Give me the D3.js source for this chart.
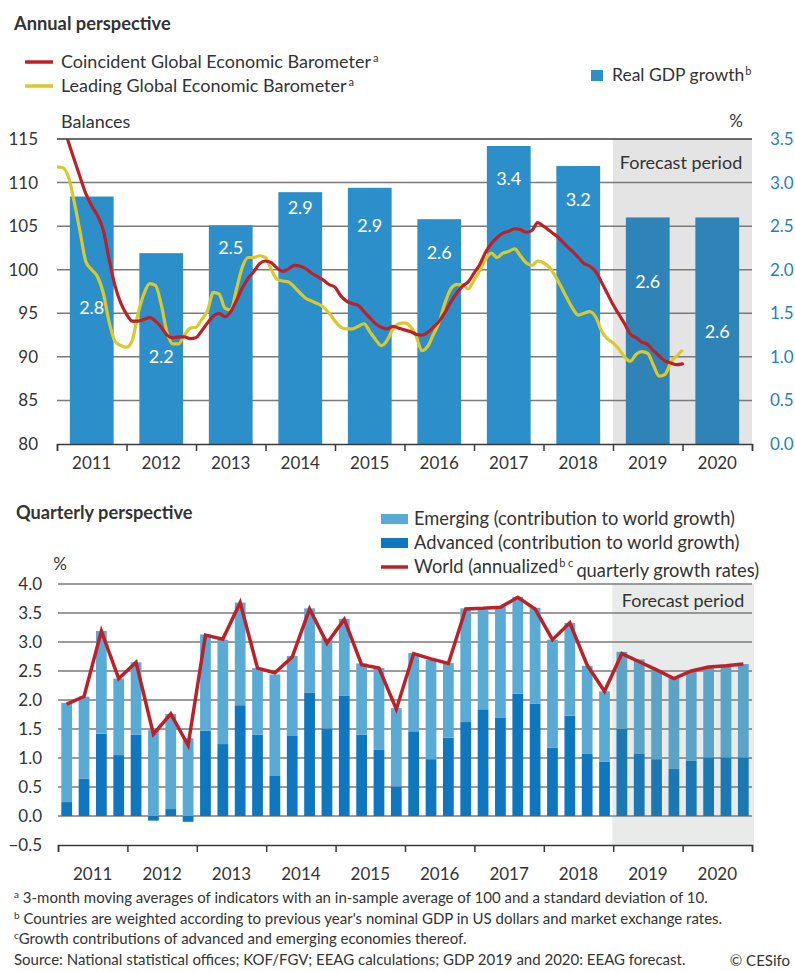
<!DOCTYPE html>
<html>
<head>
<meta charset="utf-8">
<script src="https://cdn.jsdelivr.net/npm/d3@7"></script>
<style>
  body { margin: 0; background: #fff; }
  svg { font-family: Lato, "Noto Sans", sans-serif; }
</style>
</head>
<body>
<svg id="chart" width="795" height="971"></svg>
<script>
// ---- data ----
const years = [2011, 2012, 2013, 2014, 2015, 2016, 2017, 2018, 2019, 2020];
const forecastFrom = 2019;

// real GDP growth, %
const gdpGrowth = [2.84, 2.19, 2.51, 2.89, 2.94, 2.58, 3.42, 3.19, 2.60, 2.60];

// monthly barometers, Jan 2011 .. Jan 2020
const coincident = [
  118.8, 116.9, 114.6, 112.6, 110.6, 108.7, 107.3, 106.2, 104.5, 101.2,
  98.2, 96.2, 94.9, 94.1, 94.1, 94.3, 94.5, 94.1, 93.4, 92.5,
  92.2, 92.3, 92.3, 92.1, 92.2, 93.0, 93.9, 94.7, 95.0, 94.6,
  95.2, 96.5, 97.9, 99.0, 99.8, 100.7, 101.0, 100.8, 100.2, 99.8,
  100.1, 100.5, 100.4, 100.1, 99.6, 99.2, 98.8, 98.3, 98.0, 97.0,
  96.4, 96.1, 95.9, 95.2, 94.5, 93.8, 93.4, 93.2, 93.5, 93.3,
  93.1, 92.9, 92.6, 92.5, 92.8, 93.4, 94.1, 95.1, 96.3, 97.3,
  98.1, 98.6, 99.6, 100.6, 102.0, 103.0, 103.7, 104.2, 104.4, 104.7,
  104.6, 104.3, 104.5, 105.4, 105.0, 104.5, 104.0, 103.4, 102.7, 102.1,
  101.4, 100.7, 100.4, 99.8, 98.6, 97.3, 96.0, 94.9, 93.8, 92.6,
  92.2, 91.7, 91.4, 90.7, 90.1, 89.5, 89.3, 89.1, 89.2
];
const leading = [
  111.8, 111.7, 110.6, 107.7, 104.3, 100.9, 100.0, 99.2, 97.3, 94.0,
  91.8, 91.3, 91.1, 91.9, 95.0, 97.2, 98.4, 98.2, 96.0, 92.8,
  91.5, 91.5, 92.5, 93.3, 93.4, 94.3, 95.3, 97.4, 97.2, 95.6,
  95.4, 97.8, 100.3, 101.4, 101.4, 101.6, 101.4, 100.0, 98.9, 98.7,
  98.6, 98.0, 97.3, 96.7, 96.4, 96.1, 95.7, 95.0, 94.1, 93.4,
  93.2, 93.2, 93.5, 93.8, 92.9, 92.0, 91.3, 91.9, 93.2, 93.8,
  93.9, 93.5, 92.4, 90.7, 91.2, 92.6, 94.0, 96.2, 97.8, 98.3,
  98.3, 97.8, 98.8, 99.9, 101.2, 101.9, 101.4, 101.9, 102.1, 102.4,
  101.6, 100.8, 100.5, 101.0, 100.8, 100.3, 99.3, 98.1, 96.8, 95.6,
  94.8, 95.0, 95.2, 94.6, 93.0, 92.1, 91.6, 90.9, 90.0, 89.5,
  90.3, 90.6, 90.4, 89.0, 87.8, 88.0, 89.4, 90.1, 90.8
];

// quarterly contributions to world growth, 2011Q1 .. 2020Q4
const advanced = [
  0.24, 0.64, 1.42, 1.05, 1.40, -0.08, 0.12, -0.10,
  1.47, 1.24, 1.91, 1.40, 0.69, 1.38, 2.13, 1.51,
  2.07, 1.40, 1.14, 0.51, 1.46, 0.98, 1.35, 1.62,
  1.84, 1.70, 2.11, 1.94, 1.18, 1.73, 1.07, 0.94,
  1.50, 1.07, 0.98, 0.81, 0.95, 1.01, 1.01, 1.01
];
const emerging = [
  1.71, 1.42, 1.77, 1.32, 1.25, 1.48, 1.64, 1.34,
  1.66, 1.80, 1.77, 1.15, 1.75, 1.38, 1.45, 1.55,
  1.33, 1.23, 1.41, 1.35, 1.35, 1.71, 1.29, 1.96,
  1.71, 1.91, 1.67, 1.65, 1.86, 1.60, 1.52, 1.21,
  1.33, 1.63, 1.54, 1.57, 1.55, 1.56, 1.58, 1.61
];
const world = [
  1.93, 2.06, 3.19, 2.37, 2.65, 1.41, 1.76, 1.22,
  3.12, 3.05, 3.68, 2.55, 2.47, 2.74, 3.57, 2.98,
  3.39, 2.61, 2.55, 1.84, 2.80, 2.71, 2.63, 3.57,
  3.58, 3.60, 3.77, 3.57, 3.04, 3.33, 2.60, 2.15,
  2.80, 2.66, 2.52, 2.37, 2.50, 2.57, 2.59, 2.62
];

const leftTicks = [80, 85, 90, 95, 100, 105, 110, 115];
const rightTicks = [0, 0.5, 1, 1.5, 2, 2.5, 3, 3.5];
const bottomTicks = [-0.5, 0, 0.5, 1, 1.5, 2, 2.5, 3, 3.5, 4];

// where the white value labels sit inside the bars (right-axis units)
const labelAt = [1.56, 1.0, 2.25, 2.71, 2.51, 2.20, 3.05, 2.80, 1.86, 1.29];

const footnotes = [
  ['a', ' 3-month moving averages of indicators with an in-sample average of 100 and a standard deviation of 10.'],
  ['b', ' Countries are weighted according to previous year\'s nominal GDP in US dollars and market exchange rates.'],
  ['c', 'Growth contributions of advanced and emerging economies thereof.'],
  ['', 'Source: National statistical offices; KOF/FGV; EEAG calculations; GDP 2019 and 2020: EEAG forecast.']
];

// ---- style ----
const ink = '#333';
const gridColor = '#7a7a7a';
const red = '#bd2128';
const yellow = '#dac92a';
const blue = '#2d8fca';
const blueFc = '#2f83b7';
const axisBlue = '#1f80c3';
const emergingColor = '#5aaad6', emergingFc = '#5ca3c8';
const advancedColor = '#0e77bf', advancedFc = '#1c78b3';

const svg = d3.select('#chart');

function styleAxis(g, size, color) {
  g.attr('font-family', null).attr('font-size', size);
  g.selectAll('text').attr('fill', color);
}

// ---- titles & legends ----
svg.append('text').attr('x', 14).attr('y', 24).attr('dy', '0.35em')
  .attr('font-size', 18.3).attr('font-weight', 'bold').attr('fill', ink)
  .text('Annual perspective');

const legTop = [
  { label: 'Coincident Global Economic Barometer', sup: 'a', color: red, y: 62 },
  { label: 'Leading Global Economic Barometer', sup: 'a', color: yellow, y: 86 }
];
legTop.forEach(d => {
  svg.append('line').attr('x1', 25).attr('x2', 53).attr('y1', d.y).attr('y2', d.y)
    .attr('stroke', d.color).attr('stroke-width', 3.5);
  const t = svg.append('text').attr('x', 61).attr('y', d.y).attr('dy', '0.35em')
    .attr('font-size', 18).attr('fill', ink).text(d.label);
  t.append('tspan').attr('font-size', 11).attr('dx', 2).attr('dy', '-0.55em').text(d.sup);
});
svg.append('rect').attr('x', 591).attr('y', 70).attr('width', 12).attr('height', 11).attr('fill', blue);
const gdpLeg = svg.append('text').attr('x', 612).attr('y', 75).attr('dy', '0.35em')
  .attr('font-size', 17.5).attr('fill', ink).text('Real GDP growth');
gdpLeg.append('tspan').attr('font-size', 11).attr('dx', 1).attr('dy', '-0.55em').text('b');

svg.append('text').attr('x', 61).attr('y', 122).attr('dy', '0.35em')
  .attr('font-size', 18).attr('fill', ink).text('Balances');
svg.append('text').attr('x', 736).attr('y', 121).attr('dy', '0.35em').attr('text-anchor', 'middle')
  .attr('font-size', 17).attr('fill', ink).text('%');

// ---- annual chart ----
const x0 = 57, x1 = 752;
const xTop = d3.scaleLinear().domain([2011, 2021]).range([x0, x1]);
const bandTop = d3.scaleBand().domain(years).range([x0, x1]).paddingInner(0.37).paddingOuter(0.185);
const yLeft = d3.scaleLinear().domain([80, 115]).range([444, 139]);
const yRight = d3.scaleLinear().domain([0, 3.5]).range([444, 139]);

const gTop = svg.append('g');

gTop.append('rect')
  .attr('x', xTop(forecastFrom)).attr('y', yLeft(115))
  .attr('width', xTop(2021) - xTop(forecastFrom)).attr('height', yLeft(80) - yLeft(115))
  .attr('fill', '#e4e4e4');

gTop.append('g').selectAll('line').data(leftTicks.slice(1)).join('line')
  .attr('x1', x0).attr('x2', x1)
  .attr('y1', d => yLeft(d)).attr('y2', d => yLeft(d))
  .attr('stroke', d => d === 115 ? '#3a3a3a' : gridColor).attr('stroke-width', 1.5);

gTop.append('text').attr('x', 681).attr('y', 163).attr('dy', '0.35em').attr('text-anchor', 'middle')
  .attr('font-size', 18).attr('fill', ink).text('Forecast period');

gTop.append('g').selectAll('rect').data(years).join('rect')
  .attr('x', d => bandTop(d)).attr('width', bandTop.bandwidth())
  .attr('y', (d, i) => yRight(gdpGrowth[i]))
  .attr('height', (d, i) => yRight(0) - yRight(gdpGrowth[i]))
  .attr('fill', d => d >= forecastFrom ? blueFc : blue);

gTop.append('g').selectAll('text').data(years).join('text')
  .attr('x', d => bandTop(d) + bandTop.bandwidth() / 2)
  .attr('y', (d, i) => yRight(labelAt[i])).attr('dy', '0.35em')
  .attr('text-anchor', 'middle').attr('font-size', 18).attr('fill', '#fff')
  .text((d, i) => d3.format('.1f')(gdpGrowth[i]));

svg.append('clipPath').attr('id', 'plotClip').append('rect')
  .attr('x', x0).attr('y', yLeft(115)).attr('width', x1 - x0).attr('height', yLeft(80) - yLeft(115));

const monthLine = d3.line()
  .x((d, i) => xTop(2011 + i / 12))
  .y(d => yLeft(d))
  .curve(d3.curveMonotoneX);

gTop.append('path').datum(leading).attr('d', monthLine)
  .attr('fill', 'none').attr('stroke', yellow).attr('stroke-width', 3.2)
  .attr('stroke-linejoin', 'round').attr('clip-path', 'url(#plotClip)');
gTop.append('path').datum(coincident).attr('d', monthLine)
  .attr('fill', 'none').attr('stroke', red).attr('stroke-width', 3.2)
  .attr('stroke-linejoin', 'round').attr('stroke-linecap', 'round').attr('clip-path', 'url(#plotClip)');

// axes
gTop.append('g').attr('transform', `translate(${x0},0)`)
  .call(d3.axisLeft(yLeft).tickValues(leftTicks).tickSize(0).tickPadding(19))
  .call(g => g.select('.domain').remove())
  .call(g => styleAxis(g, 17, ink));

gTop.append('g').attr('transform', `translate(${x1},0)`)
  .call(d3.axisRight(yRight).tickValues(rightTicks).tickSize(0).tickPadding(18).tickFormat(d3.format('.1f')))
  .call(g => g.select('.domain').remove())
  .call(g => styleAxis(g, 17, axisBlue));

gTop.append('g').attr('transform', `translate(0,${yLeft(80)})`)
  .call(d3.axisBottom(xTop).tickValues(d3.range(2011, 2022)).tickSize(7).tickFormat(''))
  .call(g => g.selectAll('path,line').attr('stroke', '#3a3a3a').attr('stroke-width', 1.5));

gTop.append('g').attr('transform', `translate(0,${yLeft(80)})`)
  .call(d3.axisBottom(bandTop).tickSize(0).tickPadding(13))
  .call(g => g.select('.domain').remove())
  .call(g => styleAxis(g, 17, ink));

// ---- quarterly chart ----
svg.append('text').attr('x', 16).attr('y', 513).attr('dy', '0.35em')
  .attr('font-size', 18.2).attr('font-weight', 'bold').attr('fill', ink)
  .text('Quarterly perspective');

const legBot = [
  { label: 'Emerging (contribution to world growth)', color: emergingColor, y: 519, type: 'rect' },
  { label: 'Advanced (contribution to world growth)', color: advancedColor, y: 543, type: 'rect' },
  { label: 'World (annualized', color: red, y: 567, type: 'line' }
];
legBot.forEach(d => {
  if (d.type === 'rect') {
    svg.append('rect').attr('x', 381).attr('y', d.y - 5).attr('width', 27).attr('height', 10).attr('fill', d.color);
  } else {
    svg.append('line').attr('x1', 381).attr('x2', 408).attr('y1', d.y).attr('y2', d.y)
      .attr('stroke', d.color).attr('stroke-width', 3.5);
  }
  const t = svg.append('text').attr('x', 414).attr('y', d.y).attr('dy', '0.35em')
    .attr('font-size', 18.3).attr('fill', ink).text(d.label);
  if (d.type === 'line') {
    t.append('tspan').attr('font-size', 11).attr('dx', 1).attr('dy', '-0.55em').text('b c');
    t.append('tspan').attr('dx', 3).attr('dy', '0.55em').text('quarterly growth rates)');
  }
});

svg.append('text').attr('x', 60).attr('y', 564).attr('dy', '0.35em').attr('text-anchor', 'middle')
  .attr('font-size', 17).attr('fill', ink).text('%');

const quarters = years.flatMap(y => [1, 2, 3, 4].map(q => `${y}Q${q}`));
const b0 = 58, b1 = 752;
const xBot = d3.scaleLinear().domain([2011, 2021]).range([b0, b1]);
const bandBot = d3.scaleBand().domain(quarters).range([b0, b1]).paddingInner(0.38).paddingOuter(0.19);
const bandYears = d3.scaleBand().domain(years).range([b0, b1]);
const yBot = d3.scaleLinear().domain([-0.5, 4]).range([845, 584]);

const gBot = svg.append('g');

gBot.append('rect')
  .attr('x', xBot(forecastFrom) - 1).attr('y', yBot(4))
  .attr('width', xBot(2021) - xBot(forecastFrom) + 3).attr('height', yBot(-0.5) - yBot(4))
  .attr('fill', '#e8ebea');

gBot.append('g').selectAll('line').data(bottomTicks.slice(1)).join('line')
  .attr('x1', b0).attr('x2', b1)
  .attr('y1', d => yBot(d)).attr('y2', d => yBot(d))
  .attr('stroke', gridColor).attr('stroke-width', 1.5);

gBot.append('text').attr('x', 683).attr('y', 601).attr('dy', '0.35em').attr('text-anchor', 'middle')
  .attr('font-size', 18).attr('fill', ink).text('Forecast period');

const rows = quarters.map((q, i) => ({ q, advanced: advanced[i], emerging: emerging[i] }));
const stacked = d3.stack().keys(['advanced', 'emerging']).offset(d3.stackOffsetDiverging)(rows);
const isFc = q => +q.slice(0, 4) >= forecastFrom;
const colorOf = {
  advanced: q => isFc(q) ? advancedFc : advancedColor,
  emerging: q => isFc(q) ? emergingFc : emergingColor
};

gBot.append('g').selectAll('g').data(stacked).join('g')
  .each(function (series) {
    d3.select(this).selectAll('rect').data(series).join('rect')
      .attr('x', d => bandBot(d.data.q)).attr('width', bandBot.bandwidth())
      .attr('y', d => yBot(Math.max(d[0], d[1])))
      .attr('height', d => Math.abs(yBot(d[0]) - yBot(d[1])))
      .attr('fill', d => colorOf[series.key](d.data.q));
  });

const worldLine = d3.line()
  .x((d, i) => bandBot(quarters[i]) + bandBot.bandwidth() / 2)
  .y(d => yBot(d));
gBot.append('path').datum(world).attr('d', worldLine)
  .attr('fill', 'none').attr('stroke', red).attr('stroke-width', 3.5);

gBot.append('g').attr('transform', `translate(${b0},0)`)
  .call(d3.axisLeft(yBot).tickValues(bottomTicks).tickSize(0).tickPadding(16).tickFormat(d3.format('.1f')))
  .call(g => g.select('.domain').remove())
  .call(g => styleAxis(g, 17, ink));

gBot.append('g').attr('transform', `translate(0,${yBot(-0.5)})`)
  .call(d3.axisBottom(xBot).tickValues(d3.range(2011, 2022)).tickSize(7).tickFormat(''))
  .call(g => g.selectAll('path,line').attr('stroke', '#3a3a3a').attr('stroke-width', 1.5));

gBot.append('g').attr('transform', `translate(0,${yBot(-0.5)})`)
  .call(d3.axisBottom(bandYears).tickSize(0).tickPadding(23))
  .call(g => g.select('.domain').remove())
  .call(g => styleAxis(g, 17, ink));

// ---- footnotes (y is the baseline) ----
footnotes.forEach((f, i) => {
  const t = svg.append('text').attr('x', 14).attr('y', 903 + i * 20.7)
    .attr('font-size', 15).attr('fill', ink);
  if (f[0]) {
    t.append('tspan').attr('font-size', 10).attr('dy', -5).text(f[0]);
    t.append('tspan').attr('dy', 5).text(f[1]);
  } else {
    t.text(f[1]);
  }
});
svg.append('text').attr('x', 790).attr('y', 966)
  .attr('text-anchor', 'end').attr('font-size', 15).attr('fill', ink).text('© CESifo');
</script>
</body>
</html>
